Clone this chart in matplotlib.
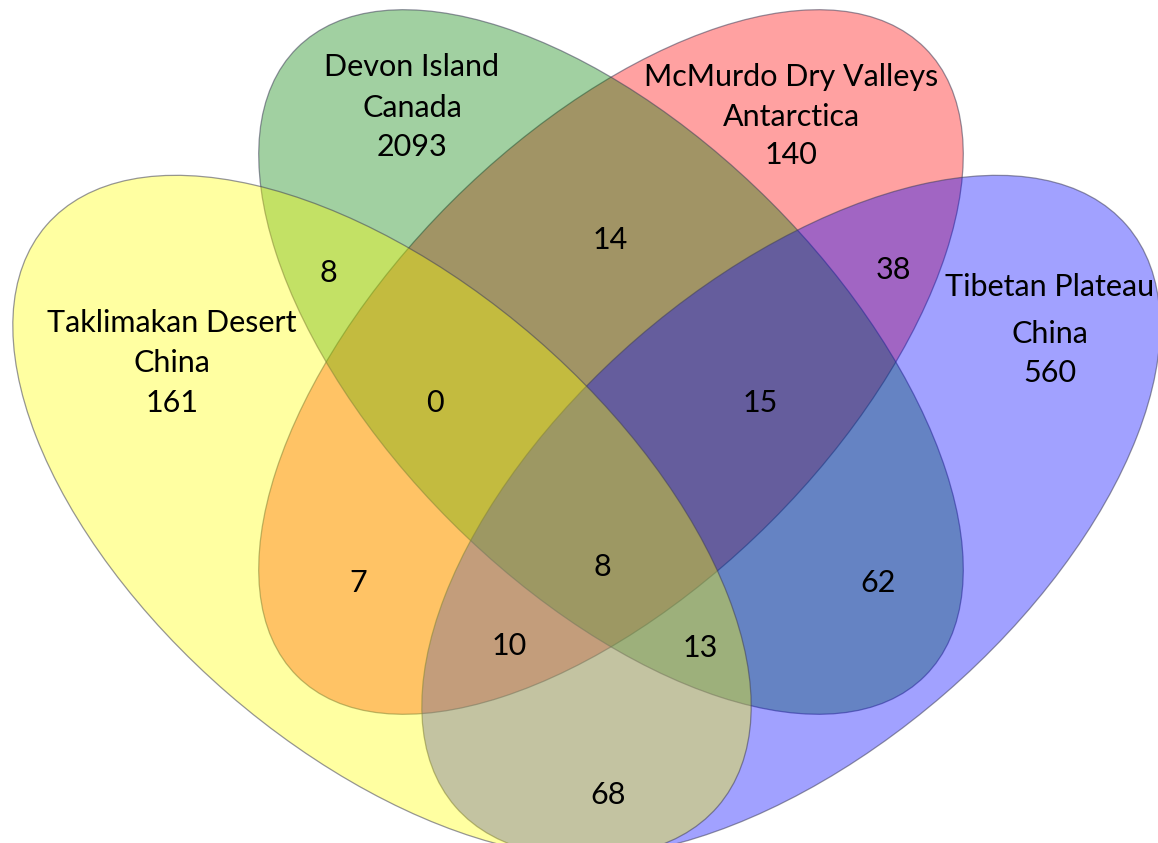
import matplotlib
matplotlib.use("Agg")
import matplotlib.pyplot as plt
from matplotlib.patches import Ellipse

# ---- data ----
set_names = ["Taklimakan Desert", "Devon Island", "McMurdo Dry Valleys", "Tibetan Plateau"]
set_regions = ["China", "Canada", "Antarctica", "China"]
unique_counts = [161, 2093, 140, 560]
# intersections: A=Taklimakan, B=Devon, C=McMurdo, D=Tibetan
overlap_keys = ["AB", "BC", "CD", "ABC", "BCD", "AC", "ABCD", "BD", "ACD", "ABD", "AD"]
overlap_counts = [8, 14, 38, 0, 15, 7, 8, 62, 10, 13, 68]

# ---- layout (pixel space) ----
W, H = 1158, 843
fig = plt.figure(figsize=(W / 100, H / 100), dpi=100)
ax = fig.add_axes([0, 0, 1, 1])
ax.set_xlim(0, W)
ax.set_ylim(H, 0)
ax.axis("off")

# ellipse geometry: center, semi-major, semi-minor, angle ; colors
ell = {
    "C": ((611, 362), 444, 226, -45, (1.0, 0.0, 0.0)),
    "B": ((611, 362), 444, 226, 45, (0.0, 0.5, 0.0)),
    "D": ((791, 516), 444, 235, -40.9, (0.0, 0.0, 1.0)),
    "A": ((382, 516), 444, 235, 40.9, (1.0, 1.0, 0.0)),
}
alpha = 0.37
for key in ["C", "B", "D", "A"]:
    (cx, cy), a, b, ang, col = ell[key]
    ax.add_patch(Ellipse((cx, cy), 2 * a, 2 * b, angle=ang,
                         facecolor=(*col, alpha),
                         edgecolor=(0.25, 0.25, 0.35, 0.55), linewidth=0.9))

font = ["Lato", "DejaVu Sans"]
fs = 22

# set labels
label_pos = [(172, 323), (412, 67), (791, 77), (1050, 287)]
line_gap = [40, 41, 40, 47]
num_gap = [80, 80, 78, 86]
for i in range(4):
    x, y = label_pos[i]
    ax.text(x, y, set_names[i], ha="center", va="center", fontsize=fs, family=font)
    ax.text(x, y + line_gap[i], set_regions[i], ha="center", va="center", fontsize=fs, family=font)
    ax.text(x, y + num_gap[i], str(unique_counts[i]), ha="center", va="center", fontsize=fs, family=font)

overlap_pos = {
    "AB": (328, 273), "BC": (610, 240), "CD": (893, 270),
    "ABC": (435, 403), "BCD": (760, 403), "AC": (358, 583),
    "ABCD": (602, 567), "BD": (878, 583), "ACD": (509, 646),
    "ABD": (700, 648), "AD": (608, 795),
}
for k, v in zip(overlap_keys, overlap_counts):
    x, y = overlap_pos[k]
    ax.text(x, y, str(v), ha="center", va="center", fontsize=fs, family=font)

fig.savefig("out.png", dpi=100)
